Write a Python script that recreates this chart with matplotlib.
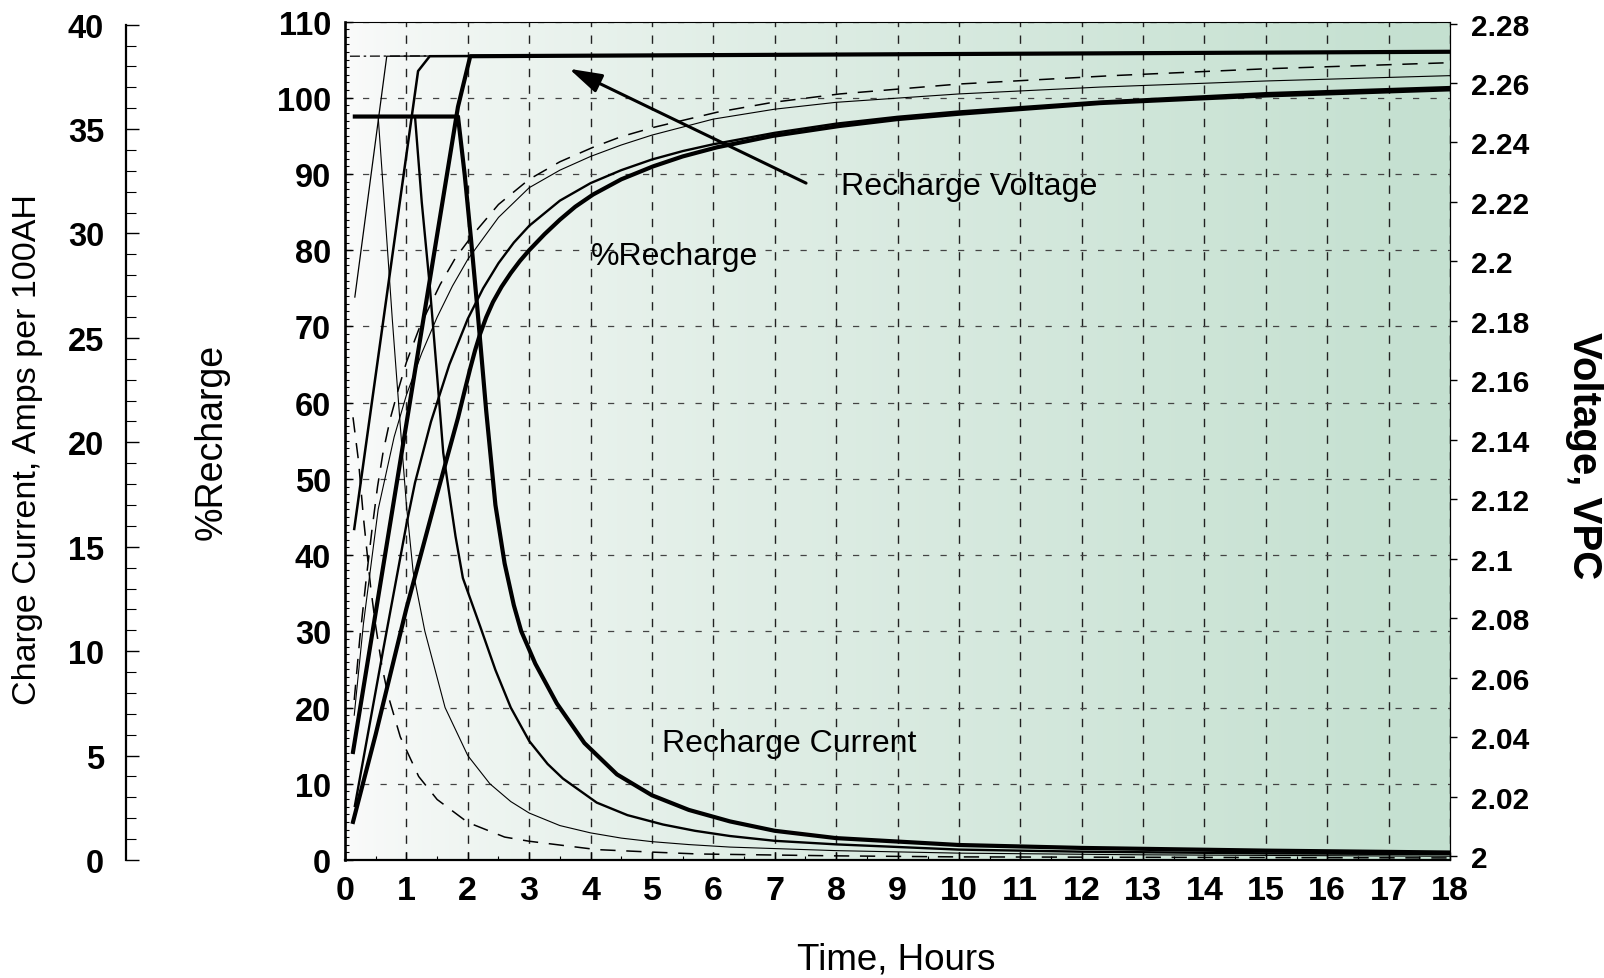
import numpy as np
import matplotlib
matplotlib.use("Agg")
import matplotlib.pyplot as plt
from matplotlib import font_manager
from matplotlib.ticker import MultipleLocator, FixedLocator, FuncFormatter

# ---------------- data ----------------
hours_ticks = list(range(0, 19))
pct_ticks = list(range(0, 111, 10))
amp_ticks = list(range(0, 41, 5))
volt_ticks = [2.00, 2.02, 2.04, 2.06, 2.08, 2.10, 2.12, 2.14, 2.16, 2.18, 2.20, 2.22, 2.24, 2.26, 2.28]

# Recharge current, A per 100AH
cur_dash_t = [0.13, 0.22, 0.30, 0.42, 0.50, 0.60, 0.70, 0.90, 1.20, 1.50, 2.00, 2.60, 3.00, 4.10, 5.00, 5.75, 8.0, 10.0, 18.0]
cur_dash = [21.2, 19.1, 16.4, 13.0, 11.2, 9.3, 7.9, 5.9, 4.0, 2.9, 1.8, 1.1, 0.9, 0.5, 0.38, 0.29, 0.2, 0.15, 0.1]
cur_thin_t = [0.16, 0.54, 0.65, 0.77, 0.90, 1.00, 1.11, 1.30, 1.63, 2.00, 2.36, 2.70, 3.00, 3.50, 4.00, 4.50, 5.00, 5.60, 6.27, 8.0, 10.0, 13.0, 18.0]
cur_thin = [35.6, 35.6, 31.0, 25.9, 20.8, 17.0, 13.8, 10.96, 7.3, 5.0, 3.65, 2.8, 2.25, 1.65, 1.3, 1.05, 0.88, 0.74, 0.62, 0.45, 0.33, 0.25, 0.18]
cur_med_t = [0.16, 1.14, 1.25, 1.38, 1.50, 1.60, 1.80, 1.92, 2.20, 2.45, 2.70, 3.00, 3.30, 3.55, 4.10, 4.60, 5.18, 5.70, 6.27, 7.0, 8.0, 10.0, 12.0, 15.0, 18.0]
cur_med = [35.6, 35.6, 31.5, 27.5, 23.2, 19.5, 15.5, 13.5, 11.2, 9.1, 7.3, 5.7, 4.6, 3.9, 2.75, 2.15, 1.7, 1.4, 1.15, 0.92, 0.75, 0.5, 0.4, 0.32, 0.28]
cur_thick_t = [0.16, 1.84, 1.95, 2.05, 2.15, 2.30, 2.45, 2.60, 2.75, 2.87, 3.10, 3.45, 3.90, 4.43, 5.00, 5.60, 6.27, 7.0, 8.0, 10.0, 12.0, 15.0, 18.0]
cur_thick = [35.6, 35.6, 32.8, 29.8, 26.6, 21.5, 17.0, 14.2, 12.2, 10.96, 9.4, 7.5, 5.6, 4.1, 3.1, 2.4, 1.85, 1.4, 1.05, 0.72, 0.58, 0.45, 0.36]

# Recharge voltage, VPC
v_dash_t = [0.08, 18.0]
v_dash = [2.269, 2.2705]
v_thin_t = [0.16, 0.68, 18.0]
v_thin = [2.188, 2.269, 2.2705]
v_med_t = [0.15, 1.19, 1.38, 18.0]
v_med = [2.110, 2.264, 2.269, 2.2705]
v_thick_t = [0.13, 1.84, 2.04, 18.0]
v_thick = [2.035, 2.252, 2.269, 2.2705]

# %Recharge
r_dash_t = [0.15, 0.24, 0.34, 0.44, 0.53, 0.62, 0.74, 0.86, 1.0, 1.22, 1.55, 1.8, 2.08, 2.5, 3.0, 3.5, 4.04, 4.5, 5.02, 6.06, 6.97, 8.06, 10.0, 12.5, 15.0, 18.0]
r_dash = [21, 29, 36.5, 43.4, 49, 53.5, 58, 61.5, 65.3, 70, 75.5, 79, 82, 86, 89.3, 91.6, 93.5, 94.9, 96.1, 98.1, 99.4, 100.5, 101.8, 102.9, 103.8, 104.6]
r_thin_t = [0.15, 0.30, 0.54, 0.80, 1.0, 1.25, 1.5, 1.75, 2.0, 2.5, 3.0, 3.5, 4.0, 4.5, 5.0, 6.0, 7.0, 8.0, 10.0, 12.3, 15.0, 18.0]
r_thin = [19, 31, 46, 55.5, 61, 66.5, 71.2, 75.3, 78.8, 84.3, 88.2, 90.5, 92.3, 93.8, 95.1, 97.2, 98.5, 99.4, 100.5, 101.4, 102.2, 102.9]
r_med_t = [0.16, 0.62, 1.0, 1.14, 1.4, 1.7, 2.0, 2.25, 2.5, 2.75, 3.0, 3.5, 4.0, 4.5, 5.0, 5.5, 6.0, 7.0, 8.0, 9.0, 10.0, 12.3, 15.0, 18.0]
r_med = [7.1, 27.5, 44, 49.5, 57.5, 65, 71, 75, 78.3, 81, 83.2, 86.5, 88.8, 90.5, 91.9, 93, 93.9, 95.4, 96.6, 97.5, 98.2, 99.5, 100.6, 101.4]
r_thick_t = [0.13, 0.5, 1.0, 1.5, 1.84, 1.95, 2.04, 2.12, 2.2, 2.3, 2.41, 2.55, 2.7, 2.85, 3.0, 3.25, 3.5, 3.75, 4.04, 4.5, 5.02, 5.5, 6.06, 6.97, 8.06, 9.0, 10.0, 12.3, 15.0, 18.0]
r_thick = [5, 16.5, 33, 48, 58, 61.6, 64.5, 66.9, 69, 71.2, 73.2, 75.2, 77, 78.6, 80, 82.1, 84, 85.7, 87.3, 89.3, 91.0, 92.3, 93.5, 95.0, 96.3, 97.2, 97.9, 99.3, 100.3, 101.1]

# ---------------- fonts ----------------
plt.rcParams['font.family'] = ['Liberation Sans', 'DejaVu Sans']
names = {f.name for f in font_manager.fontManager.ttflist}
narrow_family = ['Liberation Sans Narrow', 'Liberation Sans'] if 'Liberation Sans Narrow' in names else None

fig = plt.figure(figsize=(16.04, 9.79), dpi=100)
ax = fig.add_axes([0.2151, 0.1205, 0.6889, 0.8565])
ax.set_xlim(0, 18)
ax.set_ylim(0, 110)

# background gradient white -> pale green
green = np.array([196, 224, 208]) / 255.0
tt = np.linspace(0, 1, 400) ** 0.7
grad = (1 - tt)[:, None] * np.array([0.985, 0.985, 0.985]) + tt[:, None] * green
ax.imshow(grad[None, :, :], extent=[0, 18, 0, 110], aspect='auto', zorder=0, interpolation='bilinear')

# grid
ax.xaxis.grid(True, which='major', linestyle=(0, (6, 6)), color='#222222', lw=1.0)
ax.yaxis.grid(True, which='major', linestyle=(0, (5, 9)), color='#444444', lw=0.9)

# axes / ticks for main (%Recharge, hours)
ax.set_xticks(hours_ticks)
ax.set_yticks(pct_ticks)
ax.xaxis.set_minor_locator(MultipleLocator(0.5))
ax.yaxis.set_minor_locator(MultipleLocator(1))
ax.tick_params(axis='both', which='major', direction='in', length=6, width=1.0, top=False, right=False)
ax.tick_params(axis='both', which='minor', direction='in', length=3, width=0.8, top=False, right=False)
ax.tick_params(axis='x', which='major', pad=11, labelsize=24.5)
ax.tick_params(axis='y', which='major', pad=10, labelsize=23.5)
for lab in ax.get_xticklabels() + ax.get_yticklabels():
    lab.set_fontweight('bold')
ax.spines['left'].set_linewidth(1.9)
ax.spines['bottom'].set_linewidth(1.6)
ax.spines['top'].set_linewidth(0.8)
ax.spines['right'].set_linewidth(0.8)

# %Recharge curves
ax.plot(r_dash_t, r_dash, color='k', lw=1.1, dashes=(10, 7), zorder=3)
ax.plot(r_thin_t, r_thin, color='k', lw=0.8, zorder=3)
ax.plot(r_med_t, r_med, color='k', lw=1.7, zorder=3)
ax.plot(r_thick_t, r_thick, color='k', lw=3.0, zorder=3)

# voltage axis (right)
axv = ax.twinx()
axv.set_ylim(1.99866, 2.28067)
axv.set_xlim(0, 18)
axv.yaxis.set_major_locator(FixedLocator(volt_ticks))
axv.yaxis.set_major_formatter(FuncFormatter(lambda v, p: f"{v:g}"))
axv.tick_params(axis='y', direction='out', length=5, width=1.0, labelsize=21.5, pad=10)
for lab in axv.get_yticklabels():
    lab.set_fontweight('bold')
for s in ['left', 'top', 'bottom']:
    axv.spines[s].set_visible(False)
axv.spines['right'].set_linewidth(0.8)
axv.plot(v_dash_t, v_dash, color='k', lw=0.9, linestyle=(0, (8, 3, 2, 3)))
axv.plot(v_thin_t, v_thin, color='k', lw=0.9)
axv.plot(v_med_t, v_med, color='k', lw=1.8)
axv.plot(v_thick_t, v_thick, color='k', lw=3.0)

# current axis (far left)
axc = ax.twinx()
axc.set_xlim(0, 18)
axc.set_ylim(0, 40.15)
axc.yaxis.set_ticks_position('left')
axc.yaxis.set_label_position('left')
axc.spines['left'].set_visible(True)
axc.spines['left'].set_position(('axes', -0.198))
axc.spines['left'].set_bounds(0, 40)
axc.spines['left'].set_linewidth(1.6)
for s in ['right', 'top', 'bottom']:
    axc.spines[s].set_visible(False)
axc.set_yticks(amp_ticks)
axc.yaxis.set_minor_locator(MultipleLocator(1))
axc.tick_params(axis='y', which='major', direction='in', length=9, width=1.0, labelsize=23.5, pad=16)
axc.tick_params(axis='y', which='minor', direction='in', length=7, width=0.8)
for lab in axc.get_yticklabels():
    lab.set_fontweight('bold')
axc.plot(cur_dash_t, cur_dash, color='k', lw=1.1, dashes=(10, 7))
axc.plot(cur_thin_t, cur_thin, color='k', lw=0.8)
axc.plot(cur_med_t, cur_med, color='k', lw=1.7)
axc.plot(cur_thick_t, cur_thick, color='k', lw=3.0)

# axis labels
lab_kw = dict(transform=ax.transAxes, ha='center', va='center', rotation=90)
if narrow_family:
    ax.text(-0.1204, 0.50, '%Recharge', fontsize=31, family=narrow_family, **lab_kw)
    ax.text(-0.287, 0.491, 'Charge Current, Amps per 100AH', fontsize=29, family=narrow_family, **lab_kw)
else:
    ax.text(-0.1204, 0.50, '%Recharge', fontsize=27, **lab_kw)
    ax.text(-0.287, 0.491, 'Charge Current, Amps per 100AH', fontsize=24.5, **lab_kw)
ax.text(1.1213, 0.484, 'Voltage, VPC', transform=ax.transAxes, ha='center', va='center',
        rotation=-90, fontsize=29, fontweight='bold')
ax.text(0.4986, -0.118, 'Time, Hours', transform=ax.transAxes, ha='center', va='center', fontsize=26.5)

# annotations
ax.text(8.08, 88.4, 'Recharge Voltage', fontsize=23.2, ha='left', va='center', zorder=6)
ax.text(4.0, 79.3, '%Recharge', fontsize=23, ha='left', va='center', zorder=6)
ax.text(5.16, 15.4, 'Recharge Current', fontsize=23, ha='left', va='center', zorder=6)
ax.annotate('', xy=(3.65, 103.8), xytext=(7.51, 88.8),
            arrowprops=dict(arrowstyle='-|>,head_length=1.0,head_width=0.3', lw=2.2, color='k',
                            mutation_scale=20, shrinkA=0, shrinkB=0),
            zorder=6)

fig.savefig('out.png', dpi=100)
